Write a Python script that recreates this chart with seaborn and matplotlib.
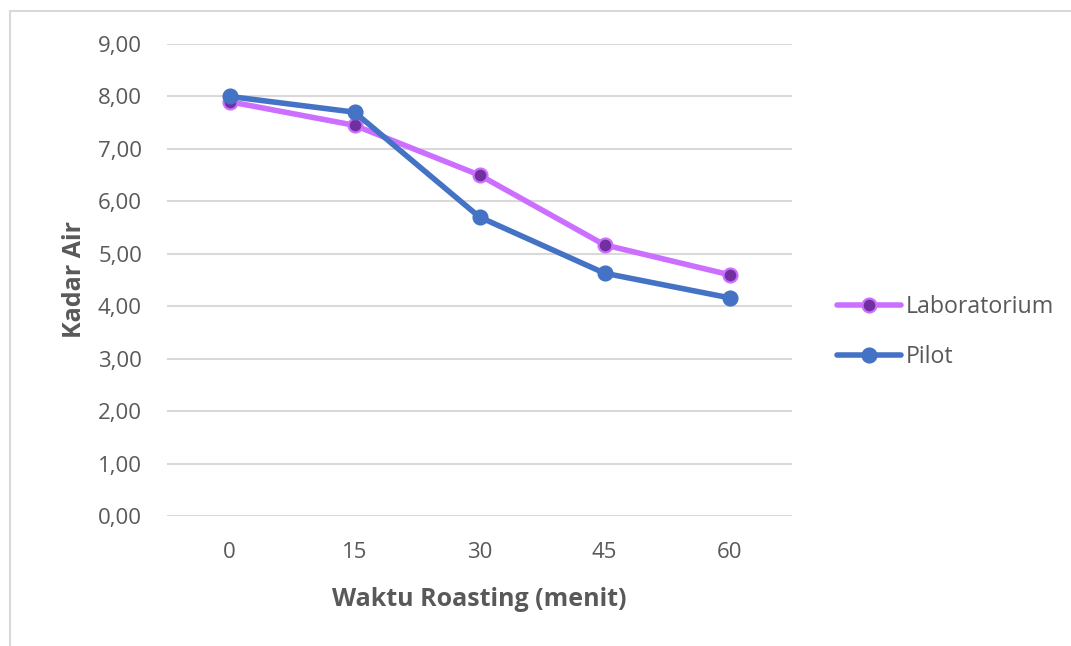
import matplotlib
matplotlib.use("Agg")
import matplotlib.pyplot as plt
from matplotlib.lines import Line2D
from matplotlib.patches import Rectangle
import pandas as pd
import seaborn as sns

# Roasting time (minutes) and moisture content per scale
waktu = ["0", "15", "30", "45", "60"]
laboratorium = [7.90, 7.45, 6.50, 5.17, 4.60]
pilot = [8.00, 7.70, 5.70, 4.63, 4.16]
y_ticks = [0, 1, 2, 3, 4, 5, 6, 7, 8, 9]

series_names = ["Laboratorium", "Pilot"]
line_colors = {"Laboratorium": "#CC6EFF", "Pilot": "#4472C4"}
marker_faces = {"Laboratorium": "#7030A0", "Pilot": "#4472C4"}

df = pd.DataFrame({
    "Waktu": waktu * 2,
    "Kadar": laboratorium + pilot,
    "Seri": ["Laboratorium"] * len(waktu) + ["Pilot"] * len(waktu),
})

sns.set_theme(style="white")
plt.rcParams["font.family"] = ["Open Sans", "DejaVu Sans"]

fig = plt.figure(figsize=(10.71, 6.46), dpi=100)
ax = fig.add_axes([167 / 1071, 1 - 516 / 646, 625 / 1071, 472 / 646])

sns.pointplot(
    data=df, x="Waktu", y="Kadar", hue="Seri", order=waktu,
    hue_order=series_names, palette=line_colors, errorbar=None,
    markers="o", ax=ax, legend=False,
)

for line, name in zip(ax.lines, series_names):
    line.set_linewidth(4.0)
    line.set_markersize(10)
    line.set_markerfacecolor(marker_faces[name])
    line.set_markeredgecolor(line_colors[name])
    line.set_markeredgewidth(1.6)
    line.set_solid_capstyle("round")
    line.set_solid_joinstyle("round")
    line.set_zorder(3 if name == "Laboratorium" else 4)

ax.set_xlim(-0.5, len(waktu) - 0.5)
ax.set_ylim(0, 9)
ax.set_yticks(y_ticks)
ax.set_yticklabels([f"{v:.2f}".replace(".", ",") for v in y_ticks])
ax.yaxis.grid(True, color="#D9D9D9", linewidth=1.5)
ax.xaxis.grid(False)
ax.set_axisbelow(True)
for s in ax.spines.values():
    s.set_visible(False)
ax.tick_params(axis="both", length=0, labelsize=16, colors="#595959")
ax.tick_params(axis="y", pad=18)
ax.tick_params(axis="x", pad=19)

ax.set_xlabel("Waktu Roasting (menit)", fontsize=18, fontweight="bold",
              color="#595959", labelpad=17)
ax.set_ylabel("Kadar Air", fontsize=18, fontweight="bold",
              color="#595959", labelpad=8)

handles = [
    Line2D([0], [0], color=line_colors[n], lw=4.0, marker="o", markersize=10,
           markerfacecolor=marker_faces[n], markeredgecolor=line_colors[n],
           markeredgewidth=1.6, solid_capstyle="round")
    for n in series_names
]
fig.legend(
    handles, series_names, loc="center left",
    bbox_to_anchor=(837 / 1071, 1 - 332 / 646), frameon=False,
    fontsize=16.7, labelcolor="#595959", handlelength=2.75,
    handletextpad=0.2, labelspacing=1.15, borderaxespad=0, borderpad=0,
)

# Chart area frame
fig.patches.append(Rectangle((10 / 1071, -0.1), 1.2, 1 - 11 / 646 + 0.1,
                             transform=fig.transFigure, fill=False,
                             edgecolor="#D9D9D9", linewidth=1.5))

fig.savefig("out.png", dpi=100, facecolor="white")
